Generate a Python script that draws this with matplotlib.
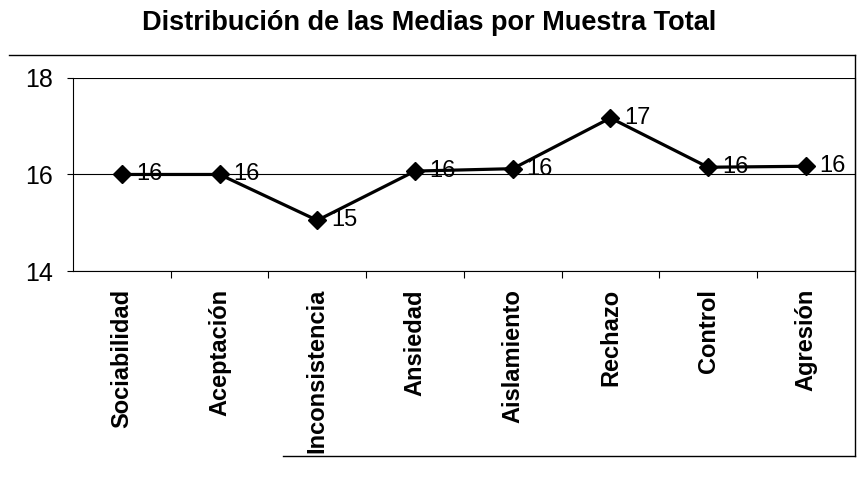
import matplotlib
matplotlib.use("Agg")
import matplotlib.pyplot as plt
from matplotlib.lines import Line2D
import numpy as np

plt.rcParams["font.family"] = ["Liberation Sans", "DejaVu Sans"]

categories = ["Sociabilidad", "Aceptación", "Inconsistencia", "Ansiedad",
              "Aislamiento", "Rechazo", "Control", "Agresión"]
means = [16.0, 16.0, 15.05, 16.07, 16.12, 17.17, 16.15, 16.17]
y_ticks = [14, 16, 18]

fig = plt.figure(figsize=(8.59, 4.78), dpi=100)
ax = fig.add_axes([0.085, 0.433, 0.910, 0.404])

x = np.arange(len(categories))
ax.plot(x, means, color="black", linewidth=2.3, marker="D", markersize=9.5,
        markerfacecolor="black", markeredgecolor="black", zorder=3)

for xi, v in zip(x, means):
    ax.annotate(f"{v:.0f}", (xi, v), xytext=(10, 0), textcoords="offset points",
                va="center", ha="left", fontsize=17, zorder=4)

ax.set_xlim(-0.5, len(categories) - 0.5)
ax.set_ylim(14, 18)
ax.set_yticks(y_ticks)
ax.set_yticklabels([str(t) for t in y_ticks], fontsize=18)
ax.yaxis.grid(True, color="black", linewidth=0.8)
ax.set_axisbelow(True)

ax.set_xticks(x)
ax.set_xticklabels(categories, rotation=90, fontsize=17, fontweight="bold")
ax.set_xticks(np.arange(len(categories) - 1) + 0.5, minor=True)
ax.tick_params(axis="x", which="major", length=0, pad=13)
ax.tick_params(axis="x", which="minor", length=5, direction="out", width=0.8)
ax.tick_params(axis="y", length=4.5, width=0.8, pad=10)

ax.spines["top"].set_visible(False)
for side in ["left", "bottom", "right"]:
    ax.spines[side].set_linewidth(0.8)

# outer chart frame (partly faded in the scan)
fig.add_artist(Line2D([0.01, 0.995], [1 - 55 / 478, 1 - 55 / 478],
                      color="black", linewidth=1.0))
fig.add_artist(Line2D([0.995, 0.995], [1 - 456 / 478, 1 - 55 / 478],
                      color="black", linewidth=1.0))
fig.add_artist(Line2D([0.33, 0.995], [1 - 456 / 478, 1 - 456 / 478],
                      color="black", linewidth=1.0))

fig.suptitle("Distribución de las Medias por Muestra Total", x=0.5, y=0.98,
             fontsize=19.5, fontweight="bold", va="top")

fig.savefig("out.png", dpi=100)
